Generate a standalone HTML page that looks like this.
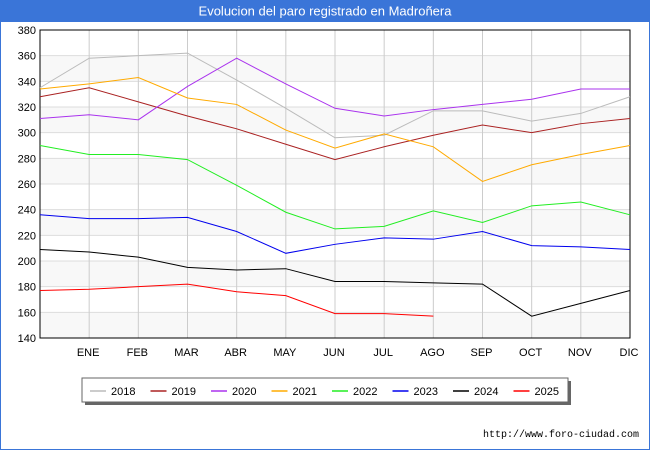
<!DOCTYPE html>
<html><head><meta charset="utf-8"><style>
body{margin:0;background:#fff;font-family:"Liberation Sans",sans-serif;}
#wrap{position:relative;width:650px;height:450px;overflow:hidden;}
</style></head><body>
<div id="wrap">
<svg id="chart" width="650" height="450" xmlns="http://www.w3.org/2000/svg">
<rect x="0.5" y="0.5" width="649" height="449" fill="#fff" stroke="#3a75d8" stroke-width="1"/>
<rect x="0" y="0" width="650" height="22" fill="#3a75d8"/>
<text x="325" y="15.5" text-anchor="middle" fill="#fff" font-size="13" font-family="Liberation Sans, sans-serif">Evolucion del paro registrado en Madroñera</text>
<g id="bands"></g><g id="grid"></g><g id="axes"></g><g id="series"></g><g id="legend"></g>
<text x="639" y="437" text-anchor="end" font-size="10" font-family="Liberation Mono, monospace" fill="#000">http://www.foro-ciudad.com</text>
</svg>
</div>
<script>
const categories=["","ENE","FEB","MAR","ABR","MAY","JUN","JUL","AGO","SEP","OCT","NOV","DIC"];
const yTicks=[140,160,180,200,220,240,260,280,300,320,340,360,380];
const seriesNames=["2018","2019","2020","2021","2022","2023","2024","2025"];
const seriesColors=["#bbbbbb","#aa2222","#aa33ee","#ffaa00","#22ee22","#0000ee","#000000","#ff0000"];
const s2018=[335,358,360,362,341,319,296,298,317,317,309,315,328];
const s2019=[328,335,324,313,303,291,279,289,298,306,300,307,311];
const s2020=[311,314,310,336,358,338,319,313,318,322,326,334,334];
const s2021=[334,338,343,327,322,302,288,299,289,262,275,283,290];
const s2022=[290,283,283,279,259,238,225,227,239,230,243,246,236];
const s2023=[236,233,233,234,223,206,213,218,217,223,212,211,209];
const s2024=[209,207,203,195,193,194,184,184,183,182,157,167,177];
const s2025=[177,178,180,182,176,173,159,159,157];
const allSeries=[s2018,s2019,s2020,s2021,s2022,s2023,s2024,s2025];
const NS="http://www.w3.org/2000/svg";
const X0=40,X1=630,Y0=338,Y1=30,YMIN=140,YMAX=380;
const xs=i=>X0+i*(X1-X0)/(categories.length-1);
const ys=v=>Y0-(v-YMIN)*(Y0-Y1)/(YMAX-YMIN);
function mk(tag,attrs,parent){const e=document.createElementNS(NS,tag);for(const k in attrs)e.setAttribute(k,attrs[k]);parent.appendChild(e);return e;}
const bands=document.getElementById('bands'),grid=document.getElementById('grid'),axes=document.getElementById('axes'),ser=document.getElementById('series'),leg=document.getElementById('legend');
mk('rect',{x:X0,y:Y1,width:X1-X0,height:Y0-Y1,fill:'#ffffff'},bands);
for(let i=0;i<yTicks.length-1;i++){if(i%2===0){const r=mk('rect',{x:X0,y:ys(yTicks[i+1]),width:X1-X0,height:ys(yTicks[i])-ys(yTicks[i+1]),fill:'#f8f8f8'},bands);

}}
yTicks.forEach(v=>{const l=mk('line',{x1:X0,x2:X1,y1:ys(v),y2:ys(v),stroke:'#dddddd','stroke-width':1},grid);


const t=mk('text',{x:X0-4,y:ys(v)+4,'text-anchor':'end','font-size':11,fill:'#000'},axes);t.textContent=v;

});
categories.forEach((c,i)=>{const l=mk('line',{x1:xs(i),x2:xs(i),y1:Y1,y2:Y0,stroke:'#cccccc','stroke-width':1},grid);


if(c){const t=mk('text',{x:xs(i)-1,y:Y0+18,'text-anchor':'middle','font-size':11,fill:'#000'},axes);t.textContent=c;

}});
const fr=mk('rect',{x:X0,y:Y1,width:X1-X0,height:Y0-Y1,fill:'none',stroke:'#000','stroke-width':1},axes);


allSeries.forEach((d,si)=>{const p=mk('polyline',{points:d.map((v,i)=>xs(i)+','+ys(v)).join(' '),fill:'none',stroke:seriesColors[si],'stroke-width':1},ser);

});
mk('rect',{x:85,y:381,width:486,height:24,fill:'#666'},leg);
const lb=mk('rect',{x:82,y:378,width:486,height:24,fill:'#fff',stroke:'#666','stroke-width':1},leg);


seriesNames.forEach((n,i)=>{const x=90+i*60.5;
const l=mk('line',{x1:x,x2:x+16,y1:391,y2:391,stroke:seriesColors[i],'stroke-width':1.5},leg);


const t=mk('text',{x:x+21,y:395,'font-size':11,fill:'#000'},leg);t.textContent=n;

});
</script>
</body></html>
